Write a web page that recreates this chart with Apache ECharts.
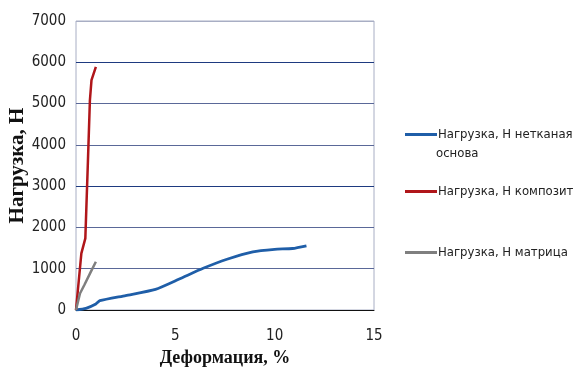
<!DOCTYPE html>
<html>
<head>
<meta charset="utf-8">
<script src="https://cdn.jsdelivr.net/npm/echarts@6/dist/echarts.min.js"></script>
<style>
  html, body { margin: 0; padding: 0; background: #fff; }
  #chart { width: 579px; height: 378px; }
</style>
</head>
<body>
<div id="chart"></div>
<script>
// деформация (%), нагрузка (Н)
var baseData = [[0, 0], [0.5, 40], [1.0, 145], [1.2, 225], [2.5, 350], [4.0, 500], [5.2, 750], [6.4, 1010], [7.6, 1230], [8.9, 1410], [10.0, 1470], [10.9, 1490], [11.6, 1555]];
var compData = [[0, 0], [0.27, 1370], [0.47, 1735], [0.6, 3600], [0.7, 5080], [0.78, 5570], [1.0, 5890]];
var matrData = [[0, 0], [0.2, 400], [0.42, 605], [0.75, 930], [1.0, 1170]];
var names = ["Нагрузка, Н нетканая", "Нагрузка, Н композит", "Нагрузка, Н матрица"];
var xTicks = [0, 5, 10, 15];

var narrow = "'Liberation Sans Narrow', 'DejaVu Sans Condensed', sans-serif";
var chart = echarts.init(document.getElementById("chart"));

function leg(name, top) {
  return {
    data: [name],
    left: 400,
    top: top,
    orient: "vertical",
    itemWidth: 32,
    itemHeight: 3,
    itemGap: 0,
    icon: "rect",
    textStyle: { fontFamily: narrow, fontSize: 13, color: "#222", padding: [0, 0, 0, -4] }
  };
}

chart.setOption({
  animation: false,
  grid: { left: 76, right: 205, top: 21, bottom: 68, outerBoundsMode: "none", containLabel: false,
    show: true, borderColor: "#a8aec4", borderWidth: 1 },
  xAxis: {
    type: "value",
    min: 0, max: 15, interval: 5,
    name: "Деформация, %",
    nameLocation: "middle",
    nameGap: 39,
    nameMoveOverlap: false,
    nameTextStyle: { fontFamily: "'Liberation Serif', serif", fontWeight: "bold", fontSize: 18, color: "#111" },
    axisLine: { show: true, onZero: false, lineStyle: { color: "#111", width: 1 } },
    axisTick: { show: false },
    axisLabel: { fontFamily: narrow, fontSize: 15, color: "#222", margin: 19,
      formatter: function (v) { return xTicks.indexOf(v) >= 0 ? String(v) : ""; } },
    splitLine: { show: false }
  },
  yAxis: {
    type: "value",
    min: 0, max: 7000, interval: 1000,
    name: "Нагрузка, Н",
    nameLocation: "middle",
    nameGap: 48,
    nameMoveOverlap: false,
    nameRotate: 90,
    nameTextStyle: { fontFamily: "'Liberation Serif', serif", fontWeight: "bold", fontSize: 21, color: "#111" },
    axisLine: { show: false },
    axisTick: { show: false },
    axisLabel: { fontFamily: narrow, fontSize: 15, color: "#222", margin: 10,
      formatter: function (v) { return String(v); } },
    splitLine: { show: true, lineStyle: { width: 1.2, color: ["#888", "#5a6898", "#5a6898", "#1e3a80", "#5a6898", "#5a6898", "#1e3a80", "#a8aec4"] } }
  },
  legend: [leg(names[0], 123), leg(names[1], 180), leg(names[2], 241)],
  graphic: [{
    type: "text", left: 436, top: 147,
    style: { text: "основа", fontFamily: narrow, fontSize: 13, fill: "#222" }
  }],
  series: [
    { name: names[0], type: "line", data: baseData, showSymbol: false, smooth: 0.2,
      itemStyle: { color: "#1f5ea8" }, lineStyle: { color: "#1f5ea8", width: 2.8 } },
    { name: names[1], type: "line", data: compData, showSymbol: false,
      itemStyle: { color: "#b0161a" }, lineStyle: { color: "#b0161a", width: 2.5 } },
    { name: names[2], type: "line", data: matrData, showSymbol: false,
      itemStyle: { color: "#7f7f7f" }, lineStyle: { color: "#7f7f7f", width: 2.5 } }
  ]
});
</script>
</body>
</html>
